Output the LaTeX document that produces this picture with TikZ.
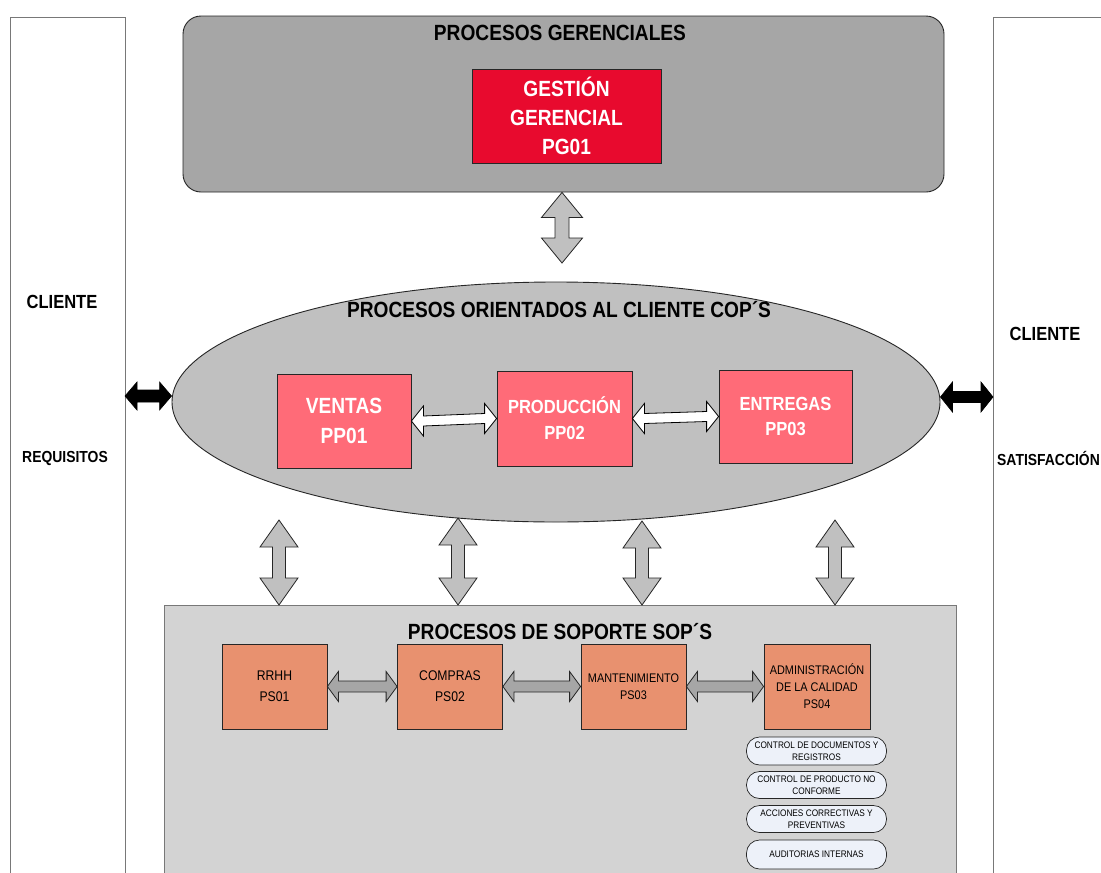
\documentclass[tikz,border=0pt]{standalone}
\usepackage{fontspec}
\setmainfont{Liberation Sans}[FakeStretch=0.87]
\usetikzlibrary{calc,shapes.geometric}
\definecolor{gerGray}{RGB}{166,166,166}
\definecolor{redG}{RGB}{232,10,46}
\definecolor{ellGray}{RGB}{192,192,192}
\definecolor{pinkBox}{RGB}{255,107,120}
\definecolor{sopGray}{RGB}{211,211,211}
\definecolor{salmon}{RGB}{232,145,111}
\definecolor{smallFill}{RGB}{237,241,249}
\definecolor{colLine}{RGB}{120,120,120}
\newcommand\hblock[6]{%
  \path[#1] let \p1=(#2), \p2=(#3) in
  (\x1,\y1) -- (\x1+#6,\y1+#4) -- (\x1+#6,\y1+#5) -- (\x2-#6,\y2+#5) -- (\x2-#6,\y2+#4) -- (\x2,\y2)
  -- (\x2-#6,\y2-#4) -- (\x2-#6,\y2-#5) -- (\x1+#6,\y1-#5) -- (\x1+#6,\y1-#4) -- cycle;}
\newcommand\vblock[6]{%
  \path[#1] let \p1=(#2), \p2=(#3) in
  (\x1,\y1) -- (\x1+#4,\y1-#6) -- (\x1+#5,\y1-#6) -- (\x2+#5,\y2+#6) -- (\x2+#4,\y2+#6) -- (\x2,\y2)
  -- (\x2-#4,\y2+#6) -- (\x2-#5,\y2+#6) -- (\x1-#5,\y1-#6) -- (\x1-#4,\y1-#6) -- cycle;}
\tikzset{
  col/.style={draw=colLine, line width=1pt, fill=white, anchor=north west, inner sep=0},
  gerbox/.style={draw=black!85, line width=0.9pt, fill=gerGray, rounded corners=18pt, minimum width=761pt, minimum height=176pt, inner sep=0},
  redbox/.style={draw=black!85, line width=0.8pt, fill=redG, text=white, minimum width=189pt, minimum height=94pt, inner sep=0, align=center, font=\fontsize{22}{29}\selectfont\bfseries},
  ell/.style={ellipse, draw=black!85, line width=0.9pt, fill=ellGray, minimum width=768pt, minimum height=240pt, inner sep=0},
  ppbox/.style={draw=black!85, line width=0.8pt, fill=pinkBox, text=white, inner sep=0, align=center},
  sopbox/.style={draw=colLine, line width=1pt, fill=sopGray, anchor=north west, minimum width=792pt, minimum height=290pt, inner sep=0},
  psbox/.style={draw=black!85, line width=0.8pt, fill=salmon, minimum width=105pt, minimum height=85pt, inner sep=0, align=center},
  smallbox/.style={draw=black!85, line width=0.7pt, fill=smallFill, rounded corners=13pt, minimum width=140pt, inner sep=0, align=center, font=\fontsize{9.5}{12}\selectfont},
  ttl/.style={font=\fontsize{22}{26}\selectfont\bfseries, inner sep=0},
  lbl/.style={font=\fontsize{19}{22}\selectfont\bfseries, inner sep=0},
  slbl/.style={font=\fontsize{16}{19}\selectfont\bfseries, inner sep=0},
  blk/.style={fill=black, draw=black, line width=0.6pt},
  wht/.style={fill=white, draw=black, line width=0.8pt},
  varr/.style={fill=ellGray, draw=black!85, line width=0.8pt},
  garr/.style={fill=gerGray, draw=black!85, line width=0.8pt},
}
\begin{document}
\begin{tikzpicture}[x=1pt,y=-1pt]
\useasboundingbox (0,0) rectangle (1101,873);
\clip (0,0) rectangle (1101,873);
\fill[white] (0,0) rectangle (1101,873);

% client columns
\node[col, minimum width=115pt, minimum height=880pt] (lcol) at (10,17) {};
\node[col, minimum width=130pt, minimum height=880pt] (rcol) at (993,17) {};
\node[lbl] (cl1) at (62,302) {CLIENTE};
\node[slbl] (req) at (65,458) {REQUISITOS};
\node[lbl] (cl2) at (1045,334) {CLIENTE};
\node[slbl, anchor=east] (sat) at (1100,458) {SATISFACCIÓN};

% management
\node[gerbox] (ger) at (563.5,104) {};
\node[ttl] (gert) at (560,33) {PROCESOS GERENCIALES};
\node[redbox] (pg) at (566.5,116) {GESTIÓN\\GERENCIAL\\PG01};

% customer oriented processes
\node[ell] (cop) at (556,402) {};
\node[ttl] (copt) at (559,310) {PROCESOS ORIENTADOS AL CLIENTE COP´S};
\node[ppbox, minimum width=134pt, minimum height=94pt, font=\fontsize{22}{30}\selectfont\bfseries] (pp1) at (344,421) {VENTAS\\PP01};
\node[ppbox, minimum width=135pt, minimum height=95pt, font=\fontsize{19}{26}\selectfont\bfseries] (pp2) at (564.5,418.5) {PRODUCCIÓN\\PP02};
\node[ppbox, minimum width=133pt, minimum height=93pt, font=\fontsize{19}{25}\selectfont\bfseries] (pp3) at (785.5,416.5) {ENTREGAS\\PP03};

\hblock{wht}{pp1.east}{pp2.west}{15pt}{5pt}{12pt}
\hblock{wht}{pp2.east}{pp3.west}{15pt}{5pt}{12pt}

% black arrows to clients
\coordinate (bl) at (125,396);
\coordinate (br) at (993,397);
\hblock{blk}{bl}{bl -| cop.west}{14pt}{6pt}{12pt}
\hblock{blk}{br -| cop.east}{br}{15pt}{5.5pt}{12pt}

% top vertical arrow
\coordinate (ta) at (562,263);
\vblock{varr}{ta |- ger.south}{ta}{20.5pt}{7pt}{25pt}

% support processes
\node[sopbox] (sop) at (164,605) {};
\node[ttl] (sopt) at (560,632) {PROCESOS DE SOPORTE SOP´S};

\coordinate (v1) at (279,520);
\coordinate (v2) at (458,518);
\coordinate (v3) at (642,521);
\coordinate (v4) at (835,520);
\vblock{varr}{v1}{v1 |- sop.north}{19pt}{6.5pt}{27pt}
\vblock{varr}{v2}{v2 |- sop.north}{19pt}{6.5pt}{27pt}
\vblock{varr}{v3}{v3 |- sop.north}{19pt}{6.5pt}{27pt}
\vblock{varr}{v4}{v4 |- sop.north}{19pt}{6.5pt}{27pt}

\node[psbox, font=\fontsize{14}{21}\selectfont] (ps1) at (274.5,686.5) {RRHH\\PS01};
\node[psbox, font=\fontsize{14}{21}\selectfont] (ps2) at (450,686.5) {COMPRAS\\PS02};
\node[psbox, font=\fontsize{12.5}{17}\selectfont] (ps3) at (633.5,686.5) {MANTENIMIENTO\\PS03};
\node[psbox, minimum width=106pt, font=\fontsize{12.5}{17}\selectfont] (ps4) at (817,686.5) {ADMINISTRACIÓN\\DE LA CALIDAD\\PS04};

\hblock{garr}{ps1.east}{ps2.west}{15pt}{5.5pt}{11pt}
\hblock{garr}{ps2.east}{ps3.west}{15pt}{5.5pt}{11pt}
\hblock{garr}{ps3.east}{ps4.west}{15pt}{5.5pt}{11pt}

\node[smallbox, minimum height=28pt] (sb1) at (816.5,751) {CONTROL DE DOCUMENTOS Y\\REGISTROS};
\node[smallbox, minimum height=27pt] (sb2) at (816.5,785) {CONTROL DE PRODUCTO NO\\CONFORME};
\node[smallbox, minimum height=27pt] (sb3) at (816.5,819) {ACCIONES CORRECTIVAS Y\\PREVENTIVAS};
\node[smallbox, minimum height=29pt] (sb4) at (816.5,854.5) {AUDITORIAS INTERNAS};
\end{tikzpicture}
\end{document}
